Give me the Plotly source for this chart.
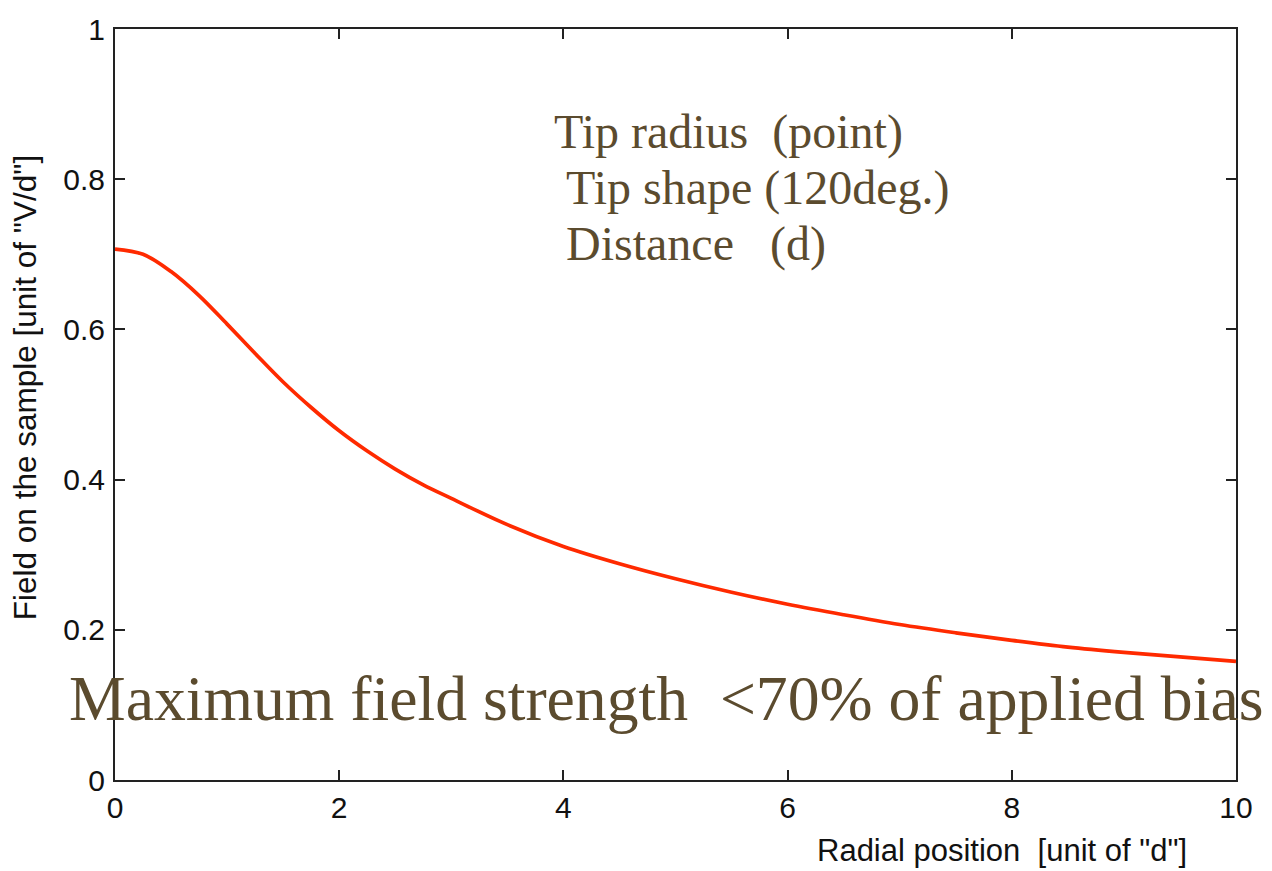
import plotly.graph_objects as go

# Radial position [unit of d]
radial_position = [0.0, 0.25, 0.5, 0.75, 1.0, 1.25, 1.5, 1.75, 2.0, 2.25, 2.5, 2.75,
                   3.0, 3.5, 4.0, 4.5, 5.0, 5.5, 6.0, 6.5, 7.0, 7.5, 8.0, 8.5, 9.0, 9.5, 10.0]
# Field on the sample [unit of V/d]
field_on_sample = [0.707, 0.700, 0.677, 0.645, 0.607, 0.568, 0.530, 0.496, 0.465, 0.438, 0.414, 0.393,
                   0.375, 0.340, 0.311, 0.288, 0.268, 0.250, 0.234, 0.220, 0.207, 0.196, 0.186, 0.177,
                   0.170, 0.164, 0.158]

x_ticks = [0, 2, 4, 6, 8, 10]
y_ticks = [0, 0.2, 0.4, 0.6, 0.8, 1]
y_tick_labels = ["0", "0.2", "0.4", "0.6", "0.8", "1"]

info_lines = ["Tip radius\u00a0\u00a0(point)",
              "\u00a0Tip shape (120deg.)",
              "\u00a0Distance\u00a0\u00a0\u00a0(d)"]
summary_text = "Maximum field strength\u00a0\u00a0&lt;70%\u00a0of applied bias"
x_title = 'Radial position\u00a0\u00a0[unit of "d"]'
y_title = 'Field on the sample [unit of "V/d"]'

W, H = 1272, 871
L, T = 115, 21
pw, ph = 1236 - 115, 780 - 21
R = W - L - pw
B = H - T - ph

def px(xs):
    return (xs - L) / pw

def py(ys):
    return (H - B - ys) / ph

fig = go.Figure()
fig.add_trace(go.Scatter(x=radial_position, y=field_on_sample, mode="lines",
                         line=dict(color="#ff2a00", width=3.7, shape="spline", smoothing=1.0),
                         showlegend=False))

serif_col = "#5b4b2e"
ann = []
for txt, xl, yc in zip(info_lines, [552, 552, 552], [125, 182, 238]):
    ann.append(dict(text=txt, x=px(xl), y=py(yc), xref="paper", yref="paper",
                    xanchor="left", yanchor="middle", showarrow=False,
                    font=dict(family="Liberation Serif", size=48, color=serif_col)))
ann.append(dict(text=summary_text, x=px(67), y=py(698), xref="paper", yref="paper",
                xanchor="left", yanchor="middle", showarrow=False,
                font=dict(family="Liberation Serif", size=63.7, color=serif_col)))
ann.append(dict(text=x_title, x=px(1002), y=py(851), xref="paper", yref="paper",
                xanchor="center", yanchor="middle", showarrow=False,
                font=dict(family="Liberation Sans", size=31, color="#111")))
ann.append(dict(text=y_title, x=px(25), y=py(384), xref="paper", yref="paper",
                xanchor="center", yanchor="middle", showarrow=False, textangle=-90,
                font=dict(family="Liberation Sans", size=31.5, color="#111")))

axis_common = dict(showgrid=False, zeroline=False, showline=True, linecolor="#222",
                   linewidth=2, mirror="allticks", ticks="inside", ticklen=10,
                   tickwidth=1.5, tickcolor="#222",
                   tickfont=dict(family="Liberation Sans", size=30, color="#111"))

fig.update_layout(
    width=W, height=H,
    margin=dict(l=L, r=R, t=T, b=B),
    paper_bgcolor="white", plot_bgcolor="white",
    xaxis=dict(range=[0, 10], tickvals=x_ticks, ticklabelstandoff=0, **axis_common),
    yaxis=dict(range=[0, 1], tickvals=y_ticks, ticktext=y_tick_labels,
               ticklabelstandoff=2, **axis_common),
    annotations=ann,
)

# remove the default page margin so the figure sits at the window's top-left corner
fig.write_html("out.html",
               config={"displayModeBar": False},
               post_script="document.body.style.margin='0';document.body.style.overflow='hidden';")
